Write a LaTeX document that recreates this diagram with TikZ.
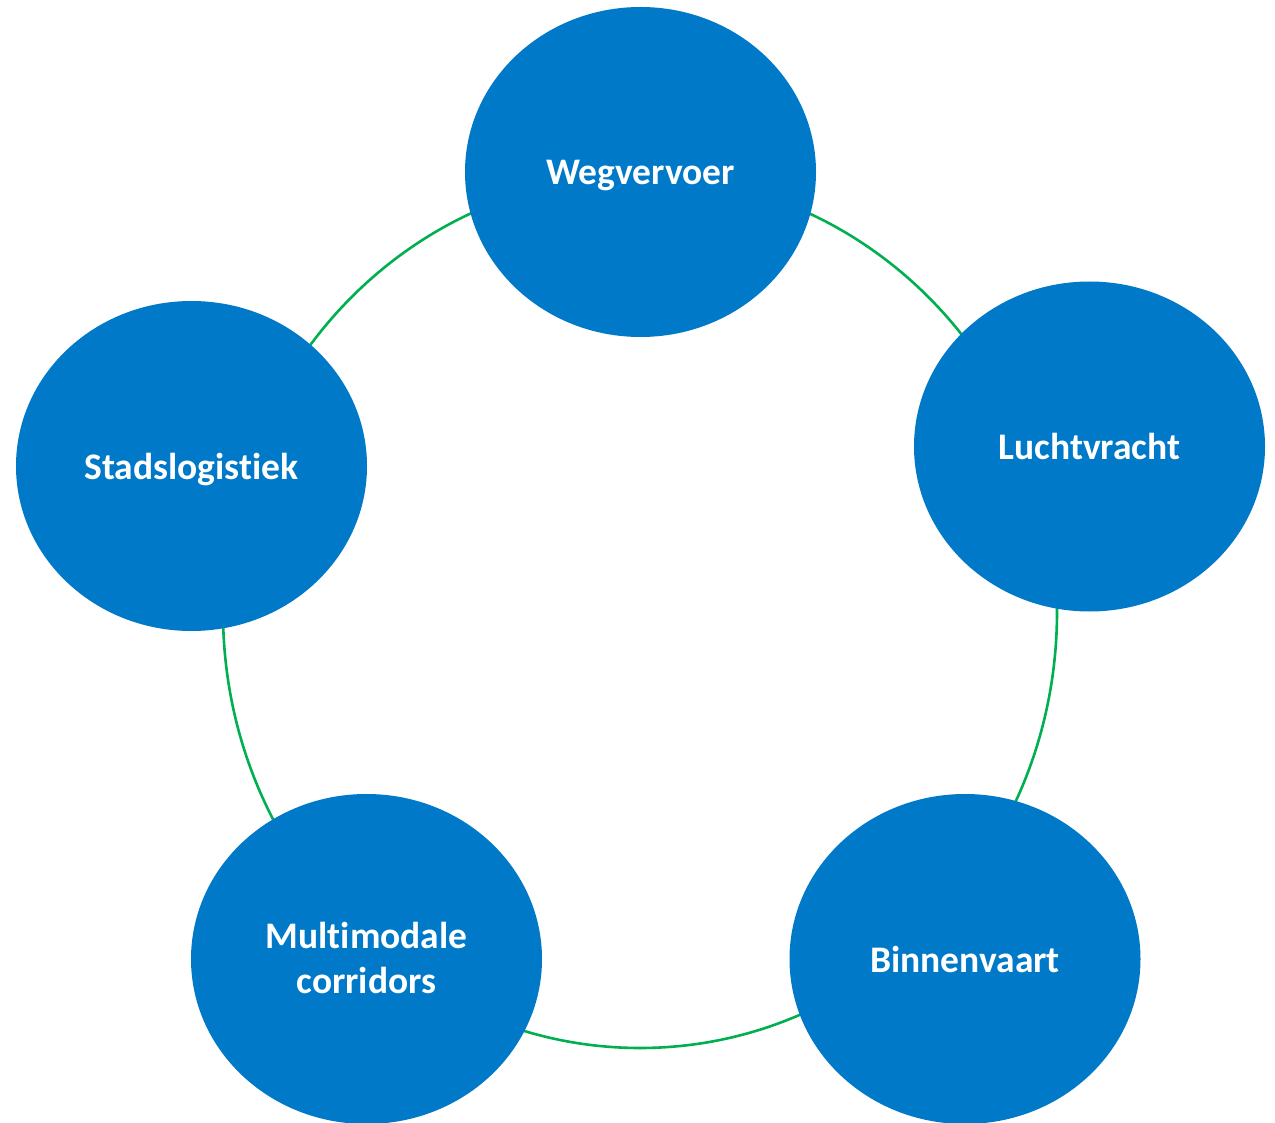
\documentclass[tikz,border=0pt]{standalone}
\usepackage{fontspec}
\setmainfont{Carlito}[RawFeature={-liga;-dlig;-clig;-calt}]
\usetikzlibrary{shapes.geometric}
\definecolor{bubble}{RGB}{0,121,200}
\definecolor{ring}{RGB}{0,176,80}
\begin{document}
\begin{tikzpicture}[x=1pt,y=-1pt,
  bubble/.style={ellipse,fill=bubble,draw=none,minimum width=351pt,minimum height=330pt,inner sep=0pt},
  lbl/.style={text=white,font=\fontsize{37.5}{45}\selectfont\bfseries,align=center,inner sep=0pt,anchor=base}]
\useasboundingbox (0,0) rectangle (1275,1123);
\fill[white] (0,0) rectangle (1275,1123);
\coordinate (ringc) at (640,612);
\draw[ring,line width=2.6pt] (ringc) ellipse [x radius=417, y radius=436];
\node[bubble] (weg) at (640.5,172) {};
\node[bubble] (lucht) at (1089.5,446.5) {};
\node[bubble] (binnen) at (965,959) {};
\node[bubble] (multi) at (366.5,959) {};
\node[bubble] (stad) at (191.5,466) {};
\node[lbl] (tweg) at (640.5,185) {Wegvervoer};
\node[lbl] (tlucht) at (1089.5,459) {Luchtvracht};
\node[lbl] (tbinnen) at (965,972) {Binnenvaart};
\node[lbl] (tmulti) at (366.5,993) {Multimodale\\corridors};
\node[lbl] (tstad) at (191.5,479) {Stadslogistiek};
\end{tikzpicture}
\end{document}
